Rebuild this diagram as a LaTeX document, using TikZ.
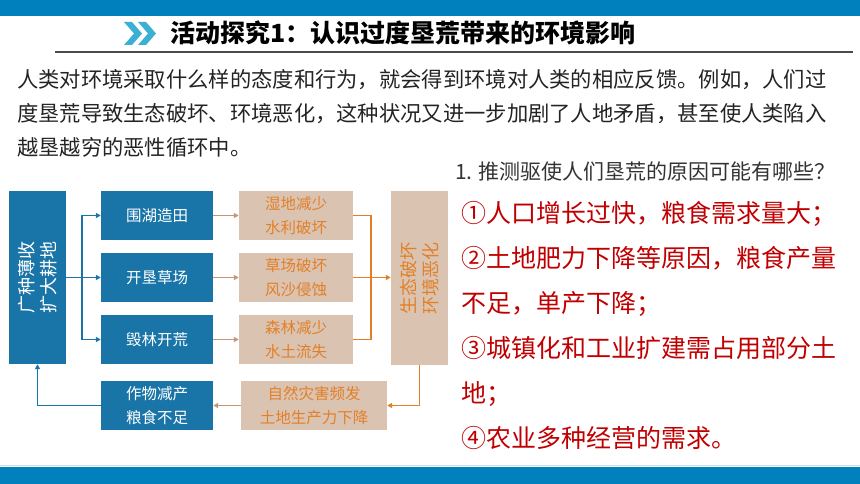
\documentclass[tikz,border=0pt]{standalone}
\usepackage{fontspec}
\setmainfont{Noto Sans CJK SC}
\usetikzlibrary{arrows.meta}
\definecolor{barblue}{RGB}{0,128,189}
\definecolor{boxblue}{RGB}{25,117,168}
\definecolor{chev}{RGB}{60,176,210}
\definecolor{boxtan}{RGB}{219,195,178}
\definecolor{txtorange}{RGB}{226,128,40}
\definecolor{arrbrown}{RGB}{196,150,120}
\definecolor{ansred}{RGB}{192,0,0}
\definecolor{txtgray}{RGB}{35,35,35}
\begin{document}
\begin{tikzpicture}[x=1pt,y=-1pt,
  bluebox/.style={fill=boxblue,text=white,minimum width=112pt,minimum height=49pt,inner sep=0pt,align=center,font=\fontsize{15.5}{24.5}\selectfont},
  tanbox/.style={fill=boxtan,text=txtorange,minimum width=114pt,minimum height=49pt,inner sep=0pt,align=center,font=\fontsize{15.5}{24.5}\selectfont},
  sidetext/.style={rotate=90,align=center,inner sep=0pt,font=\fontsize{18}{22}\selectfont},
  bluearrow/.style={draw=boxblue,line width=1.8pt},
  brownarrow/.style={draw=arrbrown,line width=1.8pt},
  orangeline/.style={draw=txtorange,line width=1.8pt},
  tip/.style={-{Triangle[length=5pt,width=5pt]}}]
\useasboundingbox (0,0) rectangle (860,484);

% top and bottom bars
\fill[barblue] (0,0) rectangle (860,16.5);
\draw[barblue!25,line width=1pt] (0,465.5) -- (860,465.5);
\fill[barblue] (0,467) rectangle (860,484);

% title
\fill[chev] (124,22) -- (132,22) -- (142,33.5) -- (132,45) -- (124,45) -- (134,33.5) -- cycle;
\fill[chev] (138,22) -- (146,22) -- (156,33.5) -- (146,45) -- (138,45) -- (148,33.5) -- cycle;
\node[anchor=base west,inner sep=0pt,font=\fontsize{25}{25}\selectfont\bfseries] (title) at (170,43) {活动探究1：认识过度垦荒带来的环境影响};
\draw[line width=2pt,color=black!70] (55,52) -- (853,52);

% text
\foreach \t [count=\i] in {人类对环境采取什么样的态度和行为，就会得到环境对人类的相应反馈。例如，人们过,
  度垦荒导致生态破坏、环境恶化，这种状况又进一步加剧了人地矛盾，甚至使人类陷入,
  越垦越穷的恶性循环中。}
  \node[anchor=base west,inner sep=0pt,text=txtgray,font=\fontsize{21.3}{21.3}\selectfont] (body\i) at (17,54+34*\i) {\t};
\node[anchor=base west,inner sep=0pt,text=black!80,font=\fontsize{21}{21}\selectfont] (question) at (455,180) {1. 推测驱使人们垦荒的原因可能有哪些？};
\foreach \t [count=\i] in {①人口增长过快，粮食需求量大；,②土地肥力下降等原因，粮食产量,
  不足，单产下降；,③城镇化和工业扩建需占用部分土,地；,④农业多种经营的需求。}
  \node[anchor=base west,inner sep=0pt,text=ansred,font=\fontsize{25}{25}\selectfont] (ans\i) at (461,177.5+45*\i) {\t};

% flow chart
\node[fill=boxblue,minimum width=57pt,minimum height=173pt,inner sep=0pt] (big) at (37.5,277.5) {};
\node[sidetext,text=white] (bigtext) at (big.center) {广种薄收\\扩大耕地};
\node[bluebox] (hu) at (157,215.5) {围湖造田};
\node[bluebox] (cao) at (157,277.5) {开垦草场};
\node[bluebox] (lin) at (157,339.5) {毁林开荒};
\node[bluebox] (crop) at (157,405.5) {作物减产\\粮食不足};
\node[tanbox] (shidi) at (296,215.5) {湿地减少\\水利破坏};
\node[tanbox] (caodi) at (296,277.5) {草场破坏\\风沙侵蚀};
\node[tanbox] (senlin) at (296,339.5) {森林减少\\水土流失};
\node[tanbox,minimum width=146pt] (disaster) at (314,405.5) {自然灾害频发\\土地生产力下降};
\node[fill=boxtan,minimum width=57pt,minimum height=174pt,inner sep=0pt] (eco) at (419.5,278) {};
\node[sidetext,text=txtorange] (ecotext) at (eco.center) {生态破坏\\环境恶化};

\coordinate (split) at (82,277.5);
\coordinate (join) at (371,277.5);
\draw[bluearrow] (big.east) -- (split);
\foreach \n in {hu,cao,lin}
  \draw[bluearrow,tip] (split) |- (\n.west);
\draw[brownarrow,tip] (hu.east) -- (shidi.west);
\draw[brownarrow,tip] (cao.east) -- (caodi.west);
\draw[brownarrow,tip] (lin.east) -- (senlin.west);
\draw[orangeline] (shidi.east) -| (join);
\draw[orangeline] (senlin.east) -| (join);
\draw[orangeline,tip] (caodi.east) -- (eco.west |- caodi.east);
\draw[orangeline,tip] (eco.south) |- (disaster.east);
\draw[brownarrow,tip] (disaster.west) -- (crop.east);
\draw[bluearrow,tip] (crop.west) -| (big.south);
\end{tikzpicture}
\end{document}
